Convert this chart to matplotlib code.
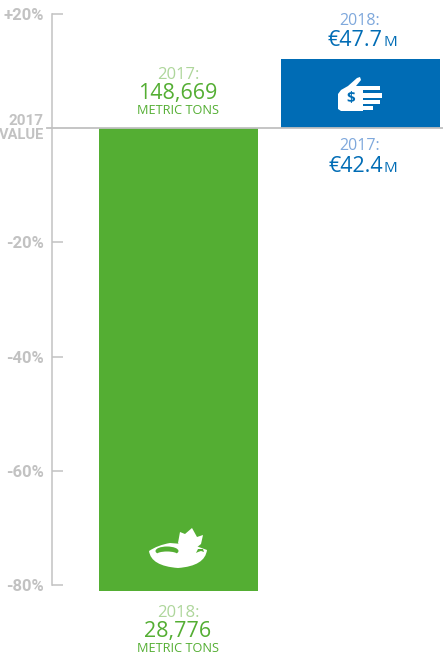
import matplotlib
matplotlib.use("Agg")
import matplotlib.pyplot as plt
from matplotlib.patches import Polygon, Rectangle, Ellipse, PathPatch
from matplotlib.path import Path
from matplotlib.transforms import Affine2D

W, H = 443, 658
GREEN = "#54ae33"
BLUE = "#006cb5"
GREY = "#c2c2c2"
LIGHT_GREEN = "#aed69b"
LIGHT_BLUE = "#7fa8dc"

categories = ["Tons", "Euros"]
values = [-81.0, 12.1]
bar_colors = [GREEN, BLUE]
tick_values = [20, -20, -40, -60, -80]
tick_labels = ["+20%", "-20%", "-40%", "-60%", "-80%"]

fig = plt.figure(figsize=(W / 100, H / 100), dpi=100)
ax = fig.add_axes([52 / W, (H - 585) / H, (W - 52) / W, 571 / H])
ax.set_ylim(-80, 20)
unit = 182.0
ax.set_xlim((52 - 178.5) / unit, (W - 178.5) / unit)
ax.patch.set_alpha(0)
ax.bar(range(len(values)), values, width=159 / unit, color=bar_colors, clip_on=False, zorder=2)

for s in ["top", "right", "bottom"]:
    ax.spines[s].set_visible(False)
ax.spines["left"].set_color(GREY)
ax.spines["left"].set_linewidth(1.1)
ax.set_xticks([])
ax.set_yticks(tick_values)
ax.set_yticklabels(tick_labels, fontfamily=["Roboto", "DejaVu Sans"], fontweight="bold",
                   fontsize=12, color=GREY)
ax.tick_params(axis="y", direction="in", length=8, width=1.1, color=GREY, pad=6)
ax.axhline(0, xmin=-5 / 391, xmax=1, color="#c0c0c0", lw=1.3, clip_on=False, zorder=3)

T = Affine2D().scale(1 / W, -1 / H).translate(0, 1) + fig.transFigure
FONT = ["Open Sans", "DejaVu Sans"]


def txt(x, y, s, size, color, ha="center", weight="normal", family=FONT, **kw):
    fig.text(x, y + 2, s, transform=T, fontsize=size, color=color, ha=ha, va="center",
             fontweight=weight, family=family, **kw)


bold = ["Roboto", "DejaVu Sans"]
txt(44, 119, "2017", 11, GREY, ha="right", weight="bold", family=bold)
txt(44, 133, "VALUE", 10.5, GREY, ha="right", weight="bold", family=bold)

# green labels
txt(178, 73, "2017:", 12, LIGHT_GREEN)
txt(178, 92, "148,669", 15.5, GREEN)
txt(178, 109, "METRIC TONS", 9.2, GREEN)
txt(178, 611, "2018:", 12, LIGHT_GREEN)
txt(178, 629, "28,776", 15.5, GREEN)
txt(178, 646, "METRIC TONS", 9.2, GREEN)

# blue labels
txt(360, 19, "2018:", 11.5, LIGHT_BLUE)
txt(383, 39, "€47.7", 15.5, BLUE, ha="right", weight=500)
txt(384, 40, "M", 11, BLUE, ha="left")
txt(360, 144, "2017:", 11.5, LIGHT_BLUE)
txt(383, 165, "€42.4", 15.5, BLUE, ha="right", weight=500)
txt(384, 166, "M", 11, BLUE, ha="left")


def add(p):
    p.set_transform(T)
    p.set_clip_on(False)
    fig.add_artist(p)


# hand icon
add(Polygon([(338, 94), (341, 90), (348, 86), (357, 78), (360, 77), (361, 80), (356, 86), (363, 86),
             (363, 111), (341, 111), (338, 109)], closed=True, fc="white", ec="none", zorder=5))
for x0, x1, y0, y1 in [(362, 380, 86, 90), (362, 382, 93, 97.5), (362, 380, 99.5, 103.5), (362, 373, 106, 110)]:
    add(Rectangle((x0, y0), x1 - x0, y1 - y0, fc="white", ec="none", zorder=5))
txt(351, 96, "$", 11, BLUE, weight="bold", zorder=6)

# bowl icon
bowl = Path([(149, 551), (158, 545), (170, 543), (182, 544), (196, 546), (207, 550),
             (205, 566), (178, 568), (151, 566), (149, 551)],
            [Path.MOVETO, Path.CURVE3, Path.CURVE3, Path.LINETO, Path.LINETO, Path.LINETO,
             Path.CURVE3, Path.CURVE3, Path.CURVE3, Path.CURVE3])
add(PathPatch(bowl, fc="white", ec="none", zorder=5))
add(Polygon([(178, 543), (180, 532), (185, 534), (192, 528), (197, 537), (203, 535), (201, 544),
             (196, 548), (184, 552)], closed=True, fc="white", ec="none", zorder=5))
add(Ellipse((167, 551), 23, 9, fc=GREEN, ec="none", zorder=6))
add(Ellipse((167, 554.5), 21, 6, fc="white", ec="none", zorder=7))
add(Polygon([(196, 553), (198, 549), (203, 549), (204, 552), (201, 551), (198, 552)], closed=True,
            fc=GREEN, ec="none", zorder=6))

fig.savefig("out.png", dpi=100)
